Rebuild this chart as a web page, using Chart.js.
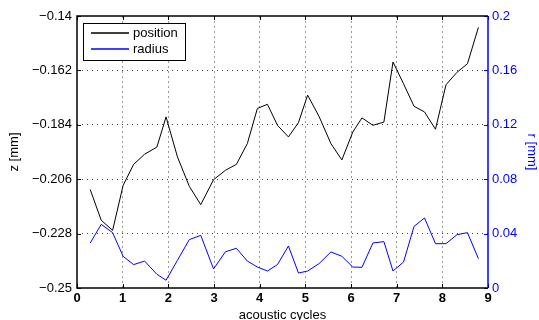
<!DOCTYPE html>
<html lang="en">

<head>
   <meta charset="UTF-8">
   <title>Position and radius over acoustic cycles</title>
   <style>
      body { margin: 0; background: #fff; }
   </style>
</head>

<body>
   <canvas id="chart" width="539" height="320"></canvas>
   <script src="https://cdn.jsdelivr.net/npm/chart.js"></script>
   <script>
      // values
      const cycles = [0.29, 0.53, 0.78, 1.01, 1.24, 1.48, 1.75, 1.95, 2.20, 2.46, 2.71, 2.99, 3.25,
         3.49, 3.73, 3.95, 4.17, 4.39, 4.63, 4.85, 5.05, 5.30, 5.56, 5.80, 6.04, 6.24, 6.48,
         6.72, 6.92, 7.15, 7.38, 7.61, 7.85, 8.08, 8.32, 8.55, 8.79];
      const position = [-0.2102, -0.2226, -0.2267, -0.2085, -0.2000, -0.1959, -0.1930, -0.1808,
         -0.1970, -0.2089, -0.2163, -0.2062, -0.2024, -0.2000, -0.1916, -0.1774, -0.1757, -0.1842,
         -0.1889, -0.1831, -0.1720, -0.1806, -0.1916, -0.1982, -0.1869, -0.1812, -0.1842, -0.1829,
         -0.1586, -0.1674, -0.1765, -0.1788, -0.1858, -0.1678, -0.1628, -0.1593, -0.1446];
      const radius = [0.0331, 0.0468, 0.0407, 0.0233, 0.0172, 0.0198, 0.0101, 0.0057, 0.0204,
         0.0356, 0.0387, 0.0140, 0.0266, 0.0292, 0.0198, 0.0154, 0.0125, 0.0172, 0.0309, 0.0110,
         0.0125, 0.0179, 0.0265, 0.0233, 0.0154, 0.0152, 0.0331, 0.0341, 0.0125, 0.0191, 0.0453,
         0.0515, 0.0326, 0.0326, 0.0392, 0.0407, 0.0216];
      const zTicks = [-0.25, -0.228, -0.206, -0.184, -0.162, -0.14];
      const rTicks = [0, 0.04, 0.08, 0.12, 0.16, 0.2];

      const font = "'Liberation Sans', Arial, sans-serif";
      const blue = '#0000ff';

      // axis box, inward tick marks and the legend, drawn like the matlab figure
      const boxPlugin = {
         id: 'box',
         afterDraw(chart) {
            const ctx = chart.ctx;
            const a = chart.chartArea;
            const sx = chart.scales.x, sz = chart.scales.y, sr = chart.scales.y1;
            ctx.save();
            ctx.lineWidth = 1;
            ctx.strokeStyle = '#000';
            // ticks
            ctx.beginPath();
            sx.ticks.forEach(t => {
               const p = Math.round(sx.getPixelForValue(t.value)) + 0.5;
               ctx.moveTo(p, a.bottom); ctx.lineTo(p, a.bottom - 4);
               ctx.moveTo(p, a.top); ctx.lineTo(p, a.top + 4);
            });
            sz.ticks.forEach(t => {
               const p = Math.round(sz.getPixelForValue(t.value)) + 0.5;
               ctx.moveTo(a.left, p); ctx.lineTo(a.left + 4, p);
            });
            ctx.stroke();
            ctx.strokeStyle = blue;
            ctx.beginPath();
            sr.ticks.forEach(t => {
               const p = Math.round(sr.getPixelForValue(t.value)) + 0.5;
               ctx.moveTo(a.right, p); ctx.lineTo(a.right - 4, p);
            });
            ctx.stroke();
            // box
            ctx.lineWidth = 1.5;
            ctx.strokeStyle = '#000';
            ctx.beginPath();
            ctx.moveTo(a.right, a.top); ctx.lineTo(a.left, a.top);
            ctx.lineTo(a.left, a.bottom); ctx.lineTo(a.right, a.bottom);
            ctx.stroke();
            ctx.strokeStyle = blue;
            ctx.beginPath();
            ctx.moveTo(a.right, a.top); ctx.lineTo(a.right, a.bottom);
            ctx.stroke();
            // legend
            const lx = a.left + 6, ly = a.top + 7, lw = 102, lh = 37;
            ctx.fillStyle = '#fff';
            ctx.fillRect(lx, ly, lw, lh);
            ctx.lineWidth = 1;
            ctx.strokeStyle = '#000';
            ctx.strokeRect(lx + 0.5, ly + 0.5, lw, lh);
            ctx.font = '13px ' + font;
            ctx.textBaseline = 'middle';
            chart.data.datasets.forEach((ds, i) => {
               const y = ly + 10 + i * 16;
               ctx.lineWidth = 1.3;
               ctx.strokeStyle = ds.borderColor;
               ctx.beginPath();
               ctx.moveTo(lx + 8, y); ctx.lineTo(lx + 46, y);
               ctx.stroke();
               ctx.fillStyle = '#000';
               ctx.fillText(ds.label, lx + 50, y + 0.5);
            });
            ctx.restore();
         }
      };

      new Chart(document.getElementById('chart'), {
         type: 'line',
         data: {
            datasets: [
               {
                  label: 'position',
                  data: cycles.map((c, i) => ({ x: c, y: position[i] })),
                  borderColor: '#000',
                  borderWidth: 1,
                  pointRadius: 0,
                  yAxisID: 'y'
               },
               {
                  label: 'radius',
                  data: cycles.map((c, i) => ({ x: c, y: radius[i] })),
                  borderColor: blue,
                  borderWidth: 1,
                  pointRadius: 0,
                  yAxisID: 'y1'
               }
            ]
         },
         options: {
            responsive: false,
            animation: false,
            layout: { padding: { top: 16, left: 0, right: 0, bottom: 0 } },
            plugins: { legend: { display: false }, tooltip: { enabled: false } },
            scales: {
               x: {
                  type: 'linear',
                  min: 0,
                  max: 9,
                  afterFit(s) { s.height = 32; },
                  ticks: { stepSize: 1, padding: 3, color: '#000', font: { family: font, size: 13, weight: 'bold' } },
                  grid: {
                     drawTicks: false,
                     color: c => (c.tick.value === 0 || c.tick.value === 9) ? 'rgba(0,0,0,0)' : '#9a9a9a'
                  },
                  border: { display: false, dash: [2, 3] },
                  title: {
                     display: true, text: 'acoustic cycles', color: '#000',
                     font: { family: font, size: 13 }, padding: { top: 0, bottom: -3 }
                  }
               },
               y: {
                  type: 'linear',
                  position: 'left',
                  min: -0.25,
                  max: -0.14,
                  afterFit(s) { s.width = 77; },
                  afterBuildTicks(s) { s.ticks = zTicks.map(v => ({ value: v })); },
                  ticks: {
                     padding: 5, color: '#000', font: { family: font, size: 13 },
                     callback: v => (v < 0 ? '\u2212' : '') + parseFloat(Math.abs(v).toFixed(3))
                  },
                  grid: {
                     drawTicks: false,
                     color: c => (c.tick.value === -0.25 || c.tick.value === -0.14) ? 'rgba(0,0,0,0)' : '#444'
                  },
                  border: { display: false, dash: [1, 4] },
                  title: {
                     display: true, text: 'z [mm]', color: '#000',
                     font: { family: font, size: 13 }, padding: { top: 7, bottom: 0 }
                  }
               },
               y1: {
                  type: 'linear',
                  position: 'right',
                  min: 0,
                  max: 0.2,
                  afterFit(s) { s.width = 51; },
                  afterBuildTicks(s) { s.ticks = rTicks.map(v => ({ value: v })); },
                  ticks: {
                     padding: 4, color: blue, font: { family: font, size: 13 },
                     callback: v => String(parseFloat(v.toFixed(2)))
                  },
                  grid: { display: false, drawTicks: false },
                  border: { display: false },
                  title: {
                     display: true, text: 'r [mm]', color: blue,
                     font: { family: font, size: 13 }, padding: { top: 0, bottom: 0 }
                  }
               }
            }
         },
         plugins: [boxPlugin]
      });
   </script>
</body>

</html>
